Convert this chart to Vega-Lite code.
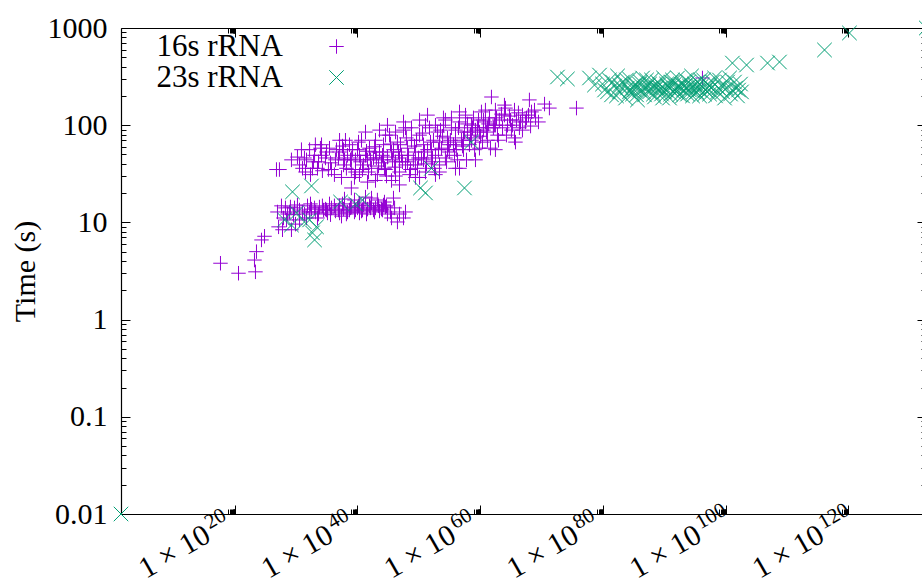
{
"$schema":"https://vega.github.io/schema/vega-lite/v6.json",
"width":800,"height":486,
"autosize":{"type":"none"},
"padding":{"left":121,"top":28,"right":1,"bottom":71},
"config":{"view":{"stroke":null},
"axis":{"grid":false,"domainColor":"#000","tickColor":"#000","labelColor":"#000","titleColor":"#000","labelFont":"Liberation Serif","titleFont":"Liberation Serif","labelFontSize":30,"titleFontSize":30,"titleFontWeight":"normal","domainWidth":1.2,"tickWidth":1}},
"datasets":{
"one":[{"n":1e50,"time":1}],
"pts":[
{"n":5.2e17,"time":3.8,"rna":"16s rRNA"},{"n":4.5e20,"time":3.0,"rna":"16s rRNA"},{"n":2.6e23,"time":3.1,"rna":"16s rRNA"},{"n":1.8e23,"time":4.1,"rna":"16s rRNA"},{"n":3.8e23,"time":5.0,"rna":"16s rRNA"},{"n":2.5e24,"time":6.6,"rna":"16s rRNA"},{"n":7.8e24,"time":7.2,"rna":"16s rRNA"},{"n":2.1e27,"time":35,"rna":"16s rRNA"},{"n":6.6e27,"time":8.4,"rna":"16s rRNA"},{"n":1.5e27,"time":9.0,"rna":"16s rRNA"},
{"n":4.4e28,"time":12.2,"rna":"16s rRNA"},{"n":2.0e28,"time":14.1,"rna":"16s rRNA"},{"n":9.3e28,"time":12.8,"rna":"16s rRNA"},{"n":6.0e29,"time":14.1,"rna":"16s rRNA"},{"n":3.9e30,"time":13.4,"rna":"16s rRNA"},{"n":2.5e31,"time":12.2,"rna":"16s rRNA"},{"n":7.8e31,"time":14.8,"rna":"16s rRNA"},{"n":3.5e32,"time":13.7,"rna":"16s rRNA"},{"n":1.5e33,"time":12.8,"rna":"16s rRNA"},{"n":6.9e33,"time":14.4,"rna":"16s rRNA"},
{"n":3.2e34,"time":13.4,"rna":"16s rRNA"},{"n":1.4e35,"time":12.5,"rna":"16s rRNA"},{"n":6.3e35,"time":14.1,"rna":"16s rRNA"},{"n":2.8e36,"time":13.1,"rna":"16s rRNA"},{"n":1.3e37,"time":14.8,"rna":"16s rRNA"},{"n":5.8e37,"time":13.7,"rna":"16s rRNA"},{"n":2.6e38,"time":12.8,"rna":"16s rRNA"},{"n":1.1e39,"time":14.4,"rna":"16s rRNA"},{"n":5.1e39,"time":13.4,"rna":"16s rRNA"},{"n":2.3e40,"time":12.5,"rna":"16s rRNA"},
{"n":1.0e41,"time":15.1,"rna":"16s rRNA"},{"n":4.7e41,"time":13.7,"rna":"16s rRNA"},{"n":2.1e42,"time":15.8,"rna":"16s rRNA"},{"n":9.3e42,"time":14.1,"rna":"16s rRNA"},{"n":4.2e43,"time":13.1,"rna":"16s rRNA"},{"n":1.9e44,"time":15.1,"rna":"16s rRNA"},{"n":8.3e44,"time":12.2,"rna":"16s rRNA"},{"n":3.8e45,"time":11.1,"rna":"16s rRNA"},{"n":3.5e46,"time":10.1,"rna":"16s rRNA"},{"n":3.4e47,"time":11.1,"rna":"16s rRNA"},
{"n":2.7e37,"time":11.6,"rna":"16s rRNA"},{"n":3.0e35,"time":15.5,"rna":"16s rRNA"},{"n":3.3e33,"time":11.1,"rna":"16s rRNA"},{"n":3.9e30,"time":10.6,"rna":"16s rRNA"},{"n":8.7e29,"time":9.6,"rna":"16s rRNA"},{"n":3.5e39,"time":17.0,"rna":"16s rRNA"},{"n":2.2e41,"time":18.2,"rna":"16s rRNA"},{"n":1.9e43,"time":17.0,"rna":"16s rRNA"},{"n":7.9e45,"time":17.8,"rna":"16s rRNA"},{"n":9.5e27,"time":11.1,"rna":"16s rRNA"},
{"n":1.9e29,"time":8.4,"rna":"16s rRNA"},{"n":1.7e32,"time":12.8,"rna":"16s rRNA"},{"n":6.6e34,"time":13.7,"rna":"16s rRNA"},{"n":1.1e40,"time":14.1,"rna":"16s rRNA"},{"n":4.9e40,"time":13.1,"rna":"16s rRNA"},{"n":9.8e41,"time":14.8,"rna":"16s rRNA"},{"n":4.4e42,"time":13.4,"rna":"16s rRNA"},{"n":8.9e43,"time":13.7,"rna":"16s rRNA"},{"n":4.0e44,"time":14.4,"rna":"16s rRNA"},{"n":5.4e38,"time":13.4,"rna":"16s rRNA"},{"n":1.3e37,"time":12.5,"rna":"16s rRNA"},
{"n":1.0e27,"time":12.8,"rna":"16s rRNA"},{"n":4.5e27,"time":14.8,"rna":"16s rRNA"},{"n":3.0e28,"time":10.6,"rna":"16s rRNA"},{"n":1.3e29,"time":14.4,"rna":"16s rRNA"},{"n":4.1e29,"time":12.0,"rna":"16s rRNA"},{"n":1.8e30,"time":15.1,"rna":"16s rRNA"},{"n":1.2e31,"time":12.8,"rna":"16s rRNA"},{"n":5.4e31,"time":11.1,"rna":"16s rRNA"},{"n":2.4e32,"time":15.5,"rna":"16s rRNA"},{"n":1.1e33,"time":14.1,"rna":"16s rRNA"},
{"n":4.8e33,"time":12.2,"rna":"16s rRNA"},{"n":2.1e34,"time":14.8,"rna":"16s rRNA"},{"n":9.8e34,"time":13.4,"rna":"16s rRNA"},{"n":4.4e35,"time":12.0,"rna":"16s rRNA"},{"n":1.9e36,"time":14.8,"rna":"16s rRNA"},{"n":8.7e36,"time":13.4,"rna":"16s rRNA"},{"n":3.9e37,"time":15.5,"rna":"16s rRNA"},{"n":1.7e38,"time":12.2,"rna":"16s rRNA"},{"n":7.8e38,"time":14.1,"rna":"16s rRNA"},{"n":3.5e39,"time":12.8,"rna":"16s rRNA"},
{"n":1.6e40,"time":14.8,"rna":"16s rRNA"},{"n":7.1e40,"time":13.4,"rna":"16s rRNA"},{"n":3.2e41,"time":12.2,"rna":"16s rRNA"},{"n":1.4e42,"time":14.1,"rna":"16s rRNA"},{"n":6.5e42,"time":12.8,"rna":"16s rRNA"},{"n":2.9e43,"time":14.8,"rna":"16s rRNA"},{"n":1.3e44,"time":13.4,"rna":"16s rRNA"},{"n":5.8e44,"time":14.8,"rna":"16s rRNA"},{"n":2.6e45,"time":12.8,"rna":"16s rRNA"},{"n":1.2e46,"time":14.1,"rna":"16s rRNA"},
{"n":7.6e46,"time":12.2,"rna":"16s rRNA"},{"n":7.2e47,"time":12.8,"rna":"16s rRNA"},{"n":8.3e37,"time":17.4,"rna":"16s rRNA"},{"n":2.3e40,"time":15.8,"rna":"16s rRNA"},{"n":2.1e42,"time":17.8,"rna":"16s rRNA"},{"n":2.7e44,"time":16.2,"rna":"16s rRNA"},
{"n":6.9e26,"time":35,"rna":"16s rRNA"},{"n":1.9e29,"time":44,"rna":"16s rRNA"},{"n":1.8e30,"time":47,"rna":"16s rRNA"},{"n":3.9e30,"time":39,"rna":"16s rRNA"},{"n":3.7e31,"time":33,"rna":"16s rRNA"},{"n":1.7e32,"time":56,"rna":"16s rRNA"},{"n":7.4e32,"time":42,"rna":"16s rRNA"},{"n":3.3e33,"time":36,"rna":"16s rRNA"},{"n":1.5e34,"time":49,"rna":"16s rRNA"},{"n":6.6e34,"time":46,"rna":"16s rRNA"},
{"n":3.0e35,"time":58,"rna":"16s rRNA"},{"n":6.3e35,"time":35,"rna":"16s rRNA"},{"n":2.8e36,"time":44,"rna":"16s rRNA"},{"n":1.3e37,"time":53,"rna":"16s rRNA"},{"n":2.7e37,"time":29,"rna":"16s rRNA"},{"n":5.8e37,"time":39,"rna":"16s rRNA"},{"n":2.6e38,"time":49,"rna":"16s rRNA"},{"n":5.4e38,"time":63,"rna":"16s rRNA"},{"n":1.1e39,"time":35,"rna":"16s rRNA"},{"n":5.1e39,"time":44,"rna":"16s rRNA"},
{"n":1.1e40,"time":56,"rna":"16s rRNA"},{"n":2.3e40,"time":31,"rna":"16s rRNA"},{"n":4.9e40,"time":70,"rna":"16s rRNA"},{"n":1.0e41,"time":39,"rna":"16s rRNA"},{"n":2.2e41,"time":49,"rna":"16s rRNA"},{"n":4.7e41,"time":26,"rna":"16s rRNA"},{"n":9.8e41,"time":58,"rna":"16s rRNA"},{"n":2.1e42,"time":36,"rna":"16s rRNA"},{"n":4.4e42,"time":46,"rna":"16s rRNA"},{"n":9.3e42,"time":70,"rna":"16s rRNA"},
{"n":1.9e43,"time":31,"rna":"16s rRNA"},{"n":4.2e43,"time":53,"rna":"16s rRNA"},{"n":8.9e43,"time":41,"rna":"16s rRNA"},{"n":1.9e44,"time":63,"rna":"16s rRNA"},{"n":4.0e44,"time":35,"rna":"16s rRNA"},{"n":8.3e44,"time":47,"rna":"16s rRNA"},{"n":1.8e45,"time":79,"rna":"16s rRNA"},{"n":3.8e45,"time":27,"rna":"16s rRNA"},{"n":7.9e45,"time":56,"rna":"16s rRNA"},{"n":1.7e46,"time":42,"rna":"16s rRNA"},
{"n":3.5e46,"time":67,"rna":"16s rRNA"},{"n":7.6e46,"time":33,"rna":"16s rRNA"},{"n":1.6e47,"time":49,"rna":"16s rRNA"},{"n":3.4e47,"time":89,"rna":"16s rRNA"},{"n":7.2e47,"time":39,"rna":"16s rRNA"},{"n":1.5e48,"time":58,"rna":"16s rRNA"},{"n":3.2e48,"time":31,"rna":"16s rRNA"},{"n":6.8e48,"time":70,"rna":"16s rRNA"},{"n":1.4e49,"time":44,"rna":"16s rRNA"},{"n":3.0e49,"time":53,"rna":"16s rRNA"},
{"n":6.5e49,"time":36,"rna":"16s rRNA"},{"n":1.4e50,"time":79,"rna":"16s rRNA"},{"n":2.9e50,"time":46,"rna":"16s rRNA"},{"n":6.2e50,"time":63,"rna":"16s rRNA"},{"n":1.3e51,"time":33,"rna":"16s rRNA"},{"n":2.8e51,"time":56,"rna":"16s rRNA"},{"n":5.8e51,"time":94,"rna":"16s rRNA"},{"n":1.2e52,"time":42,"rna":"16s rRNA"},{"n":2.6e52,"time":70,"rna":"16s rRNA"},{"n":5.5e52,"time":49,"rna":"16s rRNA"},
{"n":1.2e53,"time":85,"rna":"16s rRNA"},{"n":2.5e53,"time":39,"rna":"16s rRNA"},{"n":5.2e53,"time":58,"rna":"16s rRNA"},{"n":1.1e54,"time":100,"rna":"16s rRNA"},{"n":2.3e54,"time":46,"rna":"16s rRNA"},{"n":5.0e54,"time":74,"rna":"16s rRNA"},{"n":1.0e55,"time":53,"rna":"16s rRNA"},{"n":2.2e55,"time":119,"rna":"16s rRNA"},{"n":4.7e55,"time":63,"rna":"16s rRNA"},{"n":1.0e56,"time":89,"rna":"16s rRNA"},
{"n":2.1e56,"time":44,"rna":"16s rRNA"},{"n":4.5e56,"time":108,"rna":"16s rRNA"},{"n":9.5e56,"time":70,"rna":"16s rRNA"},{"n":2.0e57,"time":56,"rna":"16s rRNA"},{"n":4.3e57,"time":127,"rna":"16s rRNA"},{"n":8.9e57,"time":85,"rna":"16s rRNA"},{"n":1.9e58,"time":63,"rna":"16s rRNA"},{"n":4.0e58,"time":100,"rna":"16s rRNA"},{"n":8.5e58,"time":119,"rna":"16s rRNA"},{"n":1.8e59,"time":74,"rna":"16s rRNA"},
{"n":3.8e59,"time":94,"rna":"16s rRNA"},{"n":8.1e59,"time":58,"rna":"16s rRNA"},{"n":1.7e60,"time":137,"rna":"16s rRNA"},{"n":3.6e60,"time":89,"rna":"16s rRNA"},{"n":7.6e60,"time":108,"rna":"16s rRNA"},{"n":1.6e61,"time":70,"rna":"16s rRNA"},{"n":3.5e61,"time":119,"rna":"16s rRNA"},{"n":7.2e61,"time":195,"rna":"16s rRNA"},{"n":1.5e62,"time":94,"rna":"16s rRNA"},{"n":3.2e62,"time":143,"rna":"16s rRNA"},
{"n":6.9e62,"time":79,"rna":"16s rRNA"},{"n":1.4e63,"time":113,"rna":"16s rRNA"},{"n":3.1e63,"time":130,"rna":"16s rRNA"},{"n":9.5e63,"time":161,"rna":"16s rRNA"},{"n":3.0e64,"time":100,"rna":"16s rRNA"},{"n":6.2e64,"time":124,"rna":"16s rRNA"},{"n":1.3e65,"time":89,"rna":"16s rRNA"},{"n":4.1e65,"time":143,"rna":"16s rRNA"},{"n":8.5e65,"time":113,"rna":"16s rRNA"},{"n":2.6e66,"time":94,"rna":"16s rRNA"},
{"n":8.1e66,"time":127,"rna":"16s rRNA"},{"n":2.5e67,"time":108,"rna":"16s rRNA"},{"n":1.1e68,"time":182,"rna":"16s rRNA"},{"n":2.4e68,"time":137,"rna":"16s rRNA"},{"n":1.1e69,"time":119,"rna":"16s rRNA"},{"n":3.2e70,"time":165,"rna":"16s rRNA"},{"n":2.0e71,"time":150,"rna":"16s rRNA"},{"n":5.1e75,"time":150,"rna":"16s rRNA"},{"n":1.7e96,"time":306,"rna":"16s rRNA"},
{"n":4.2e43,"time":89,"rna":"16s rRNA"},{"n":8.3e44,"time":100,"rna":"16s rRNA"},{"n":1.7e46,"time":85,"rna":"16s rRNA"},{"n":3.4e47,"time":108,"rna":"16s rRNA"},{"n":6.8e48,"time":94,"rna":"16s rRNA"},{"n":1.4e50,"time":113,"rna":"16s rRNA"},{"n":2.8e51,"time":127,"rna":"16s rRNA"},{"n":5.5e52,"time":100,"rna":"16s rRNA"},{"n":1.1e54,"time":119,"rna":"16s rRNA"},{"n":2.2e55,"time":94,"rna":"16s rRNA"},
{"n":4.5e56,"time":137,"rna":"16s rRNA"},{"n":8.9e57,"time":103,"rna":"16s rRNA"},{"n":1.8e59,"time":89,"rna":"16s rRNA"},{"n":3.6e60,"time":113,"rna":"16s rRNA"},
{"n":5.8e37,"time":56,"rna":"16s rRNA"},{"n":1.1e39,"time":46,"rna":"16s rRNA"},{"n":2.3e40,"time":49,"rna":"16s rRNA"},{"n":4.7e41,"time":44,"rna":"16s rRNA"},{"n":9.3e42,"time":53,"rna":"16s rRNA"},{"n":1.9e44,"time":44,"rna":"16s rRNA"},{"n":3.8e45,"time":53,"rna":"16s rRNA"},{"n":7.6e46,"time":46,"rna":"16s rRNA"},{"n":1.5e48,"time":42,"rna":"16s rRNA"},{"n":3.0e49,"time":39,"rna":"16s rRNA"},
{"n":6.2e50,"time":44,"rna":"16s rRNA"},{"n":1.2e52,"time":56,"rna":"16s rRNA"},{"n":2.5e53,"time":67,"rna":"16s rRNA"},{"n":5.0e54,"time":56,"rna":"16s rRNA"},{"n":1.0e56,"time":67,"rna":"16s rRNA"},{"n":2.0e57,"time":74,"rna":"16s rRNA"},{"n":4.0e58,"time":70,"rna":"16s rRNA"},{"n":8.1e59,"time":85,"rna":"16s rRNA"},{"n":1.6e61,"time":94,"rna":"16s rRNA"},{"n":3.2e62,"time":100,"rna":"16s rRNA"},
{"n":8.1e30,"time":56,"rna":"16s rRNA"},{"n":1.5e33,"time":63,"rna":"16s rRNA"},{"n":1.5e34,"time":63,"rna":"16s rRNA"},{"n":1.3e37,"time":70,"rna":"16s rRNA"},
{"n":7.6e46,"time":24.3,"rna":"16s rRNA"},{"n":2.5e53,"time":33,"rna":"16s rRNA"},{"n":4.5e56,"time":36,"rna":"16s rRNA"},{"n":1.1e39,"time":22.6,"rna":"16s rRNA"},{"n":1.4e50,"time":29,"rna":"16s rRNA"},
{"n":1.2e31,"time":36,"rna":"16s rRNA"},{"n":5.4e31,"time":44,"rna":"16s rRNA"},{"n":2.4e32,"time":31,"rna":"16s rRNA"},{"n":1.1e33,"time":49,"rna":"16s rRNA"},{"n":4.8e33,"time":42,"rna":"16s rRNA"},{"n":2.1e34,"time":34,"rna":"16s rRNA"},{"n":9.8e34,"time":53,"rna":"16s rRNA"},{"n":4.4e35,"time":41,"rna":"16s rRNA"},{"n":1.9e36,"time":31,"rna":"16s rRNA"},{"n":8.7e36,"time":46,"rna":"16s rRNA"},
{"n":3.9e37,"time":61,"rna":"16s rRNA"},{"n":1.7e38,"time":36,"rna":"16s rRNA"},{"n":7.8e38,"time":44,"rna":"16s rRNA"},{"n":3.5e39,"time":29,"rna":"16s rRNA"},{"n":1.6e40,"time":67,"rna":"16s rRNA"},{"n":7.1e40,"time":35,"rna":"16s rRNA"},{"n":3.2e41,"time":54,"rna":"16s rRNA"},{"n":1.4e42,"time":44,"rna":"16s rRNA"},{"n":6.5e42,"time":60,"rna":"16s rRNA"},{"n":2.9e43,"time":38,"rna":"16s rRNA"},
{"n":1.3e44,"time":49,"rna":"16s rRNA"},{"n":5.8e44,"time":30,"rna":"16s rRNA"},{"n":2.6e45,"time":64,"rna":"16s rRNA"},{"n":1.2e46,"time":37,"rna":"16s rRNA"},{"n":5.2e46,"time":53,"rna":"16s rRNA"},{"n":2.3e47,"time":42,"rna":"16s rRNA"},{"n":1.0e48,"time":74,"rna":"16s rRNA"},{"n":4.7e48,"time":35,"rna":"16s rRNA"},{"n":2.1e49,"time":61,"rna":"16s rRNA"},{"n":9.5e49,"time":46,"rna":"16s rRNA"},
{"n":4.3e50,"time":83,"rna":"16s rRNA"},{"n":1.9e51,"time":40,"rna":"16s rRNA"},{"n":8.5e51,"time":67,"rna":"16s rRNA"},{"n":3.8e52,"time":36,"rna":"16s rRNA"},{"n":1.7e53,"time":56,"rna":"16s rRNA"},{"n":7.8e53,"time":77,"rna":"16s rRNA"},{"n":3.5e54,"time":42,"rna":"16s rRNA"},{"n":1.5e55,"time":70,"rna":"16s rRNA"},{"n":6.9e55,"time":49,"rna":"16s rRNA"},{"n":3.1e56,"time":94,"rna":"16s rRNA"},
{"n":1.4e57,"time":61,"rna":"16s rRNA"},{"n":6.2e57,"time":44,"rna":"16s rRNA"},{"n":2.8e58,"time":79,"rna":"16s rRNA"},{"n":1.3e59,"time":56,"rna":"16s rRNA"},{"n":5.6e59,"time":113,"rna":"16s rRNA"},{"n":2.5e60,"time":67,"rna":"16s rRNA"},{"n":1.1e61,"time":85,"rna":"16s rRNA"},{"n":5.0e61,"time":58,"rna":"16s rRNA"},{"n":2.2e62,"time":100,"rna":"16s rRNA"},{"n":1.0e63,"time":70,"rna":"16s rRNA"},
{"n":4.6e63,"time":94,"rna":"16s rRNA"},{"n":2.0e64,"time":79,"rna":"16s rRNA"},{"n":9.1e64,"time":113,"rna":"16s rRNA"},{"n":4.1e65,"time":74,"rna":"16s rRNA"},{"n":1.8e66,"time":134,"rna":"16s rRNA"},{"n":8.1e66,"time":89,"rna":"16s rRNA"},{"n":3.7e67,"time":119,"rna":"16s rRNA"},{"n":1.7e68,"time":98,"rna":"16s rRNA"},{"n":7.4e68,"time":143,"rna":"16s rRNA"},{"n":3.3e69,"time":108,"rna":"16s rRNA"},
{"n":2.5e31,"time":46,"rna":"16s rRNA"},{"n":5.0e32,"time":36,"rna":"16s rRNA"},{"n":1.0e34,"time":58,"rna":"16s rRNA"},{"n":2.0e35,"time":35,"rna":"16s rRNA"},{"n":4.1e36,"time":56,"rna":"16s rRNA"},{"n":8.3e37,"time":44,"rna":"16s rRNA"},{"n":1.7e39,"time":56,"rna":"16s rRNA"},{"n":3.3e40,"time":42,"rna":"16s rRNA"},{"n":6.8e41,"time":33,"rna":"16s rRNA"},{"n":1.3e43,"time":46,"rna":"16s rRNA"},
{"n":2.7e44,"time":36,"rna":"16s rRNA"},{"n":5.5e45,"time":44,"rna":"16s rRNA"},{"n":1.1e47,"time":63,"rna":"16s rRNA"},{"n":2.2e48,"time":49,"rna":"16s rRNA"},{"n":4.5e49,"time":70,"rna":"16s rRNA"},{"n":8.9e50,"time":53,"rna":"16s rRNA"},{"n":1.8e52,"time":46,"rna":"16s rRNA"},{"n":3.6e53,"time":89,"rna":"16s rRNA"},{"n":7.2e54,"time":63,"rna":"16s rRNA"},{"n":1.4e56,"time":56,"rna":"16s rRNA"},
{"n":2.9e57,"time":85,"rna":"16s rRNA"},{"n":5.9e58,"time":94,"rna":"16s rRNA"},{"n":1.2e60,"time":77,"rna":"16s rRNA"},{"n":2.3e61,"time":103,"rna":"16s rRNA"},{"n":4.8e62,"time":119,"rna":"16s rRNA"},{"n":9.5e63,"time":127,"rna":"16s rRNA"},{"n":1.9e65,"time":100,"rna":"16s rRNA"},{"n":3.9e66,"time":108,"rna":"16s rRNA"},{"n":7.8e67,"time":127,"rna":"16s rRNA"},
{"n":1.2e38,"time":70,"rna":"16s rRNA"},{"n":2.2e41,"time":85,"rna":"16s rRNA"},{"n":4.0e44,"time":79,"rna":"16s rRNA"},{"n":7.2e47,"time":94,"rna":"16s rRNA"},{"n":1.3e51,"time":100,"rna":"16s rRNA"},{"n":2.3e54,"time":113,"rna":"16s rRNA"},{"n":4.3e57,"time":119,"rna":"16s rRNA"},{"n":7.6e60,"time":143,"rna":"16s rRNA"},{"n":1.4e64,"time":150,"rna":"16s rRNA"},
{"n":5.1e39,"time":33,"rna":"16s rRNA"},{"n":9.3e42,"time":27,"rna":"16s rRNA"},{"n":1.7e46,"time":30,"rna":"16s rRNA"},{"n":3.0e49,"time":29,"rna":"16s rRNA"},{"n":5.5e52,"time":31,"rna":"16s rRNA"},{"n":1.0e56,"time":36,"rna":"16s rRNA"},{"n":1.8e59,"time":44,"rna":"16s rRNA"},{"n":3.2e62,"time":56,"rna":"16s rRNA"},{"n":5.9e65,"time":67,"rna":"16s rRNA"},
{"n":32.4,"time":0.01,"rna":"23s rRNA"},{"n":5e132,"time":1000,"rna":"23s rRNA"},{"n":2.8e29,"time":20.6,"rna":"23s rRNA"},{"n":3.5e32,"time":23.7,"rna":"23s rRNA"},{"n":1.9e29,"time":9.4,"rna":"23s rRNA"},{"n":1.3e30,"time":12.5,"rna":"23s rRNA"},{"n":1.7e32,"time":10.6,"rna":"23s rRNA"},{"n":2.3e33,"time":9.0,"rna":"23s rRNA"},{"n":5.0e32,"time":7.8,"rna":"23s rRNA"},{"n":1.1e33,"time":6.6,"rna":"23s rRNA"},
{"n":1.9e37,"time":16.2,"rna":"23s rRNA"},{"n":7.1e40,"time":17.0,"rna":"23s rRNA"},{"n":2.0e50,"time":22.6,"rna":"23s rRNA"},{"n":1.3e51,"time":20.1,"rna":"23s rRNA"},{"n":2.9e57,"time":22.6,"rna":"23s rRNA"},{"n":1.2e52,"time":36,"rna":"23s rRNA"},{"n":4.0e58,"time":67,"rna":"23s rRNA"},{"n":5.1e39,"time":15.5,"rna":"23s rRNA"},{"n":1.4e28,"time":10.6,"rna":"23s rRNA"},{"n":2.5e31,"time":10.1,"rna":"23s rRNA"},
{"n":4.1e72,"time":313,"rna":"23s rRNA"},{"n":1.7e74,"time":299,"rna":"23s rRNA"},{"n":6.8e77,"time":306,"rna":"23s rRNA"},{"n":4.4e78,"time":259,"rna":"23s rRNA"},{"n":2.9e79,"time":328,"rna":"23s rRNA"},{"n":1.9e80,"time":230,"rna":"23s rRNA"},{"n":1.2e81,"time":292,"rna":"23s rRNA"},{"n":2.6e81,"time":205,"rna":"23s rRNA"},{"n":7.9e81,"time":253,"rna":"23s rRNA"},{"n":2.5e82,"time":321,"rna":"23s rRNA"},
{"n":5.2e82,"time":220,"rna":"23s rRNA"},{"n":1.6e83,"time":278,"rna":"23s rRNA"},{"n":5.0e83,"time":190,"rna":"23s rRNA"},{"n":1.0e84,"time":241,"rna":"23s rRNA"},{"n":2.2e84,"time":299,"rna":"23s rRNA"},{"n":6.9e84,"time":209,"rna":"23s rRNA"},{"n":2.1e85,"time":265,"rna":"23s rRNA"},{"n":4.5e85,"time":182,"rna":"23s rRNA"},{"n":9.5e85,"time":230,"rna":"23s rRNA"},{"n":3.0e86,"time":306,"rna":"23s rRNA"},
{"n":6.2e86,"time":205,"rna":"23s rRNA"},{"n":1.9e87,"time":253,"rna":"23s rRNA"},{"n":4.1e87,"time":220,"rna":"23s rRNA"},{"n":8.5e87,"time":292,"rna":"23s rRNA"},{"n":2.6e88,"time":195,"rna":"23s rRNA"},{"n":5.6e88,"time":241,"rna":"23s rRNA"},{"n":1.7e89,"time":265,"rna":"23s rRNA"},{"n":3.6e89,"time":209,"rna":"23s rRNA"},{"n":7.8e89,"time":306,"rna":"23s rRNA"},{"n":1.7e90,"time":230,"rna":"23s rRNA"},
{"n":3.5e90,"time":253,"rna":"23s rRNA"},{"n":7.4e90,"time":190,"rna":"23s rRNA"},{"n":1.5e91,"time":278,"rna":"23s rRNA"},{"n":3.3e91,"time":220,"rna":"23s rRNA"},{"n":6.9e91,"time":241,"rna":"23s rRNA"},{"n":1.5e92,"time":306,"rna":"23s rRNA"},{"n":3.2e92,"time":205,"rna":"23s rRNA"},{"n":6.6e92,"time":265,"rna":"23s rRNA"},{"n":1.4e93,"time":230,"rna":"23s rRNA"},{"n":3.0e93,"time":292,"rna":"23s rRNA"},
{"n":6.3e93,"time":209,"rna":"23s rRNA"},{"n":1.3e94,"time":253,"rna":"23s rRNA"},{"n":2.8e94,"time":321,"rna":"23s rRNA"},{"n":6.0e94,"time":220,"rna":"23s rRNA"},{"n":1.3e95,"time":241,"rna":"23s rRNA"},{"n":2.7e95,"time":278,"rna":"23s rRNA"},{"n":5.8e95,"time":200,"rna":"23s rRNA"},{"n":1.2e96,"time":253,"rna":"23s rRNA"},{"n":2.6e96,"time":292,"rna":"23s rRNA"},{"n":5.4e96,"time":230,"rna":"23s rRNA"},
{"n":1.1e97,"time":265,"rna":"23s rRNA"},{"n":2.4e97,"time":209,"rna":"23s rRNA"},{"n":5.1e97,"time":241,"rna":"23s rRNA"},{"n":1.6e98,"time":306,"rna":"23s rRNA"},{"n":4.9e98,"time":220,"rna":"23s rRNA"},{"n":1.0e99,"time":292,"rna":"23s rRNA"},{"n":2.2e99,"time":253,"rna":"23s rRNA"},{"n":6.8e99,"time":190,"rna":"23s rRNA"},{"n":2.1e100,"time":278,"rna":"23s rRNA"},{"n":4.4e100,"time":306,"rna":"23s rRNA"},
{"n":1.3e101,"time":230,"rna":"23s rRNA"},{"n":4.2e101,"time":241,"rna":"23s rRNA"},{"n":8.7e101,"time":200,"rna":"23s rRNA"},{"n":2.7e102,"time":265,"rna":"23s rRNA"},{"n":1.3e101,"time":436,"rna":"23s rRNA"},{"n":2.6e103,"time":416,"rna":"23s rRNA"},{"n":6.8e106,"time":436,"rna":"23s rRNA"},{"n":6.0e108,"time":447,"rna":"23s rRNA"},{"n":1.3e116,"time":594,"rna":"23s rRNA"},{"n":1.5e120,"time":889,"rna":"23s rRNA"},
{"n":5.2e82,"time":259,"rna":"23s rRNA"},{"n":9.5e85,"time":265,"rna":"23s rRNA"},{"n":1.7e89,"time":230,"rna":"23s rRNA"},{"n":3.2e92,"time":241,"rna":"23s rRNA"},{"n":5.8e95,"time":230,"rna":"23s rRNA"},{"n":4.1e87,"time":265,"rna":"23s rRNA"},{"n":7.4e90,"time":241,"rna":"23s rRNA"},{"n":1.3e94,"time":230,"rna":"23s rRNA"},{"n":1.4e85,"time":230,"rna":"23s rRNA"},{"n":2.6e88,"time":253,"rna":"23s rRNA"},
{"n":4.8e91,"time":265,"rna":"23s rRNA"},{"n":8.7e94,"time":265,"rna":"23s rRNA"},{"n":6.2e86,"time":241,"rna":"23s rRNA"},{"n":1.1e90,"time":220,"rna":"23s rRNA"},{"n":2.0e93,"time":253,"rna":"23s rRNA"},{"n":2.2e84,"time":220,"rna":"23s rRNA"},{"n":2.4e97,"time":253,"rna":"23s rRNA"},
{"n":8.9e79,"time":265,"rna":"23s rRNA"},{"n":5.8e80,"time":220,"rna":"23s rRNA"},{"n":3.8e81,"time":278,"rna":"23s rRNA"},{"n":1.7e82,"time":200,"rna":"23s rRNA"},{"n":1.1e83,"time":241,"rna":"23s rRNA"},{"n":7.2e83,"time":292,"rna":"23s rRNA"},{"n":3.2e84,"time":230,"rna":"23s rRNA"},{"n":1.0e85,"time":253,"rna":"23s rRNA"},{"n":3.1e85,"time":205,"rna":"23s rRNA"},{"n":1.4e86,"time":278,"rna":"23s rRNA"},
{"n":4.3e86,"time":220,"rna":"23s rRNA"},{"n":1.3e87,"time":292,"rna":"23s rRNA"},{"n":5.9e87,"time":241,"rna":"23s rRNA"},{"n":1.8e88,"time":209,"rna":"23s rRNA"},{"n":8.1e88,"time":278,"rna":"23s rRNA"},{"n":2.5e89,"time":241,"rna":"23s rRNA"},{"n":5.4e89,"time":190,"rna":"23s rRNA"},{"n":2.4e90,"time":265,"rna":"23s rRNA"},{"n":1.1e91,"time":209,"rna":"23s rRNA"},{"n":2.2e91,"time":292,"rna":"23s rRNA"},
{"n":1.0e92,"time":220,"rna":"23s rRNA"},{"n":2.1e92,"time":253,"rna":"23s rRNA"},{"n":9.5e92,"time":200,"rna":"23s rRNA"},{"n":4.4e93,"time":241,"rna":"23s rRNA"},{"n":9.1e93,"time":278,"rna":"23s rRNA"},{"n":4.1e94,"time":200,"rna":"23s rRNA"},{"n":1.9e95,"time":220,"rna":"23s rRNA"},{"n":3.9e95,"time":253,"rna":"23s rRNA"},{"n":8.3e95,"time":292,"rna":"23s rRNA"},{"n":3.7e96,"time":209,"rna":"23s rRNA"},
{"n":1.7e97,"time":230,"rna":"23s rRNA"},{"n":7.4e97,"time":278,"rna":"23s rRNA"},{"n":2.3e98,"time":200,"rna":"23s rRNA"},{"n":7.1e98,"time":241,"rna":"23s rRNA"},{"n":3.2e99,"time":220,"rna":"23s rRNA"},{"n":1.4e100,"time":241,"rna":"23s rRNA"},{"n":6.3e100,"time":209,"rna":"23s rRNA"},{"n":2.8e101,"time":278,"rna":"23s rRNA"},{"n":1.3e102,"time":230,"rna":"23s rRNA"},{"n":3.9e102,"time":220,"rna":"23s rRNA"}
]},
"layer":[
{"data":{"name":"pts"},
 "mark":{"type":"point","filled":false,"strokeWidth":1,"size":210,"clip":false,"opacity":1},
 "encoding":{
  "x":{"field":"n","type":"quantitative","scale":{"type":"log","domain":[32.4,6.8e131],"nice":false},
   "axis":{"orient":"bottom","values":[1e20,1e40,1e60,1e80,1e100,1e120],"ticks":false,"domain":true,"labelAngle":-30,"labelAlign":"right","labelBaseline":"alphabetic","labelPadding":26,"labelOffset":-22.5,"labelOverlap":false,"labelBound":false,"labelFlush":false,"title":null,
   "labelExpr":"'1 × 10'"}},
  "y":{"field":"time","type":"quantitative","scale":{"type":"log","domain":[0.01,1000],"nice":false},
   "axis":{"orient":"left","values":[0.01,0.1,1,10,100,1000],"ticks":false,"domain":true,"format":"~g","labelPadding":14,"labelBaseline":"middle","labelOverlap":false,"labelBound":false,"labelFlush":false,"title":"Time (s)","titleX":-96,"titleY":243,"titleAngle":-90,"titleBaseline":"middle","titleAlign":"center"}},
  "color":{"field":"rna","type":"nominal","scale":{"domain":["16s rRNA","23s rRNA"],"range":["#9400d3","#009e73"]},
   "legend":{"title":null,"orient":"none","legendX":200,"legendY":3,"labelFont":"Liberation Serif","labelFontSize":31,"labelColor":"#000","labelAlign":"right","labelOffset":-69,"symbolSize":210,"symbolStrokeWidth":1,"rowPadding":-6,"padding":0,"labelLimit":0}},
  "shape":{"field":"rna","type":"nominal","scale":{"domain":["16s rRNA","23s rRNA"],"range":["M-1,0L1,0M0,-1L0,1","M-1,-1L1,1M-1,1L1,-1"]},
   "legend":{"title":null,"orient":"none","legendX":200,"legendY":3,"labelFont":"Liberation Serif","labelFontSize":31,"labelColor":"#000","labelAlign":"right","labelOffset":-69,"symbolSize":210,"symbolStrokeWidth":1,"rowPadding":-6,"padding":0,"labelLimit":0}}
 }},
{"data":{"name":"one"},"mark":{"type":"point","opacity":0},
 "encoding":{
  "x":{"field":"n","type":"quantitative","scale":{"type":"log","domain":[32.4,6.8e131],"nice":false},"axis":{"orient":"bottom","values":[1e20,1e40,1e60,1e80,1e100,1e120],"ticks":false,"domain":false,"labelAngle":-30,"labelAlign":"left","labelBaseline":"alphabetic","labelFontSize":21,"labelPadding":15,"labelOffset":-25.5,"labelOverlap":false,"labelBound":false,"labelFlush":false,"title":null,"labelExpr":"'' + round(log(datum.value)/LN10)"}}
 }},
{"data":{"name":"one"},"mark":{"type":"point","opacity":0},
 "encoding":{
  "x":{"field":"n","type":"quantitative","scale":{"type":"log","domain":[32.4,6.8e131],"nice":false},"axis":{"orient":"bottom","values":[1e20,1e40,1e60,1e80,1e100,1e120],"labels":false,"domain":false,"tickSize":-9,"title":null}},
  "y":{"field":"time","type":"quantitative","scale":{"type":"log","domain":[0.01,1000],"nice":false},"axis":{"orient":"left","values":[0.01,0.1,1,10,100,1000],"labels":false,"domain":false,"tickSize":-9,"title":null}}
 }},
{"data":{"name":"one"},"mark":{"type":"point","opacity":0},
 "encoding":{
  "x":{"field":"n","type":"quantitative","scale":{"type":"log","domain":[32.4,6.8e131],"nice":false},"axis":{"orient":"bottom","values":[1e19,2e19,3e19,4e19,5e19,6e19,7e19,8e19,9e19,1e39,2e39,3e39,4e39,5e39,6e39,7e39,8e39,9e39,1e59,2e59,3e59,4e59,5e59,6e59,7e59,8e59,9e59,1e79,2e79,3e79,4e79,5e79,6e79,7e79,8e79,9e79,1e99,2e99,3e99,4e99,5e99,6e99,7e99,8e99,9e99,1e119,2e119,3e119,4e119,5e119,6e119,7e119,8e119,9e119],"labels":false,"domain":false,"tickSize":-5,"title":null}},
  "y":{"field":"time","type":"quantitative","scale":{"type":"log","domain":[0.01,1000],"nice":false},"axis":{"orient":"left","values":[0.02,0.03,0.04,0.05,0.06,0.07,0.08,0.09,0.2,0.3,0.4,0.5,0.6,0.7,0.8,0.9,2,3,4,5,6,7,8,9,20,30,40,50,60,70,80,90,200,300,400,500,600,700,800,900],"labels":false,"domain":false,"tickSize":-5,"title":null}}
 }},
{"data":{"name":"one"},"mark":{"type":"point","opacity":0},
 "encoding":{
  "x":{"field":"n","type":"quantitative","scale":{"type":"log","domain":[32.4,6.8e131],"nice":false},"axis":{"orient":"top","values":[1e20,1e40,1e60,1e80,1e100,1e120],"labels":false,"domain":true,"tickSize":-9,"title":null}},
  "y":{"field":"time","type":"quantitative","scale":{"type":"log","domain":[0.01,1000],"nice":false},"axis":{"orient":"right","offset":5,"values":[0.01,0.1,1,10,100,1000],"labels":false,"domain":false,"tickSize":-9,"title":null}}
 }},
{"data":{"name":"one"},"mark":{"type":"point","opacity":0},
 "encoding":{
  "x":{"field":"n","type":"quantitative","scale":{"type":"log","domain":[32.4,6.8e131],"nice":false},"axis":{"orient":"top","values":[1e19,2e19,3e19,4e19,5e19,6e19,7e19,8e19,9e19,1e39,2e39,3e39,4e39,5e39,6e39,7e39,8e39,9e39,1e59,2e59,3e59,4e59,5e59,6e59,7e59,8e59,9e59,1e79,2e79,3e79,4e79,5e79,6e79,7e79,8e79,9e79,1e99,2e99,3e99,4e99,5e99,6e99,7e99,8e99,9e99,1e119,2e119,3e119,4e119,5e119,6e119,7e119,8e119,9e119],"labels":false,"domain":false,"tickSize":-5,"title":null}},
  "y":{"field":"time","type":"quantitative","scale":{"type":"log","domain":[0.01,1000],"nice":false},"axis":{"orient":"right","offset":5,"values":[0.02,0.03,0.04,0.05,0.06,0.07,0.08,0.09,0.2,0.3,0.4,0.5,0.6,0.7,0.8,0.9,2,3,4,5,6,7,8,9,20,30,40,50,60,70,80,90,200,300,400,500,600,700,800,900],"labels":false,"domain":false,"tickSize":-5,"title":null}}
 }}
],
"resolve":{"axis":{"x":"independent","y":"independent"}}
}
